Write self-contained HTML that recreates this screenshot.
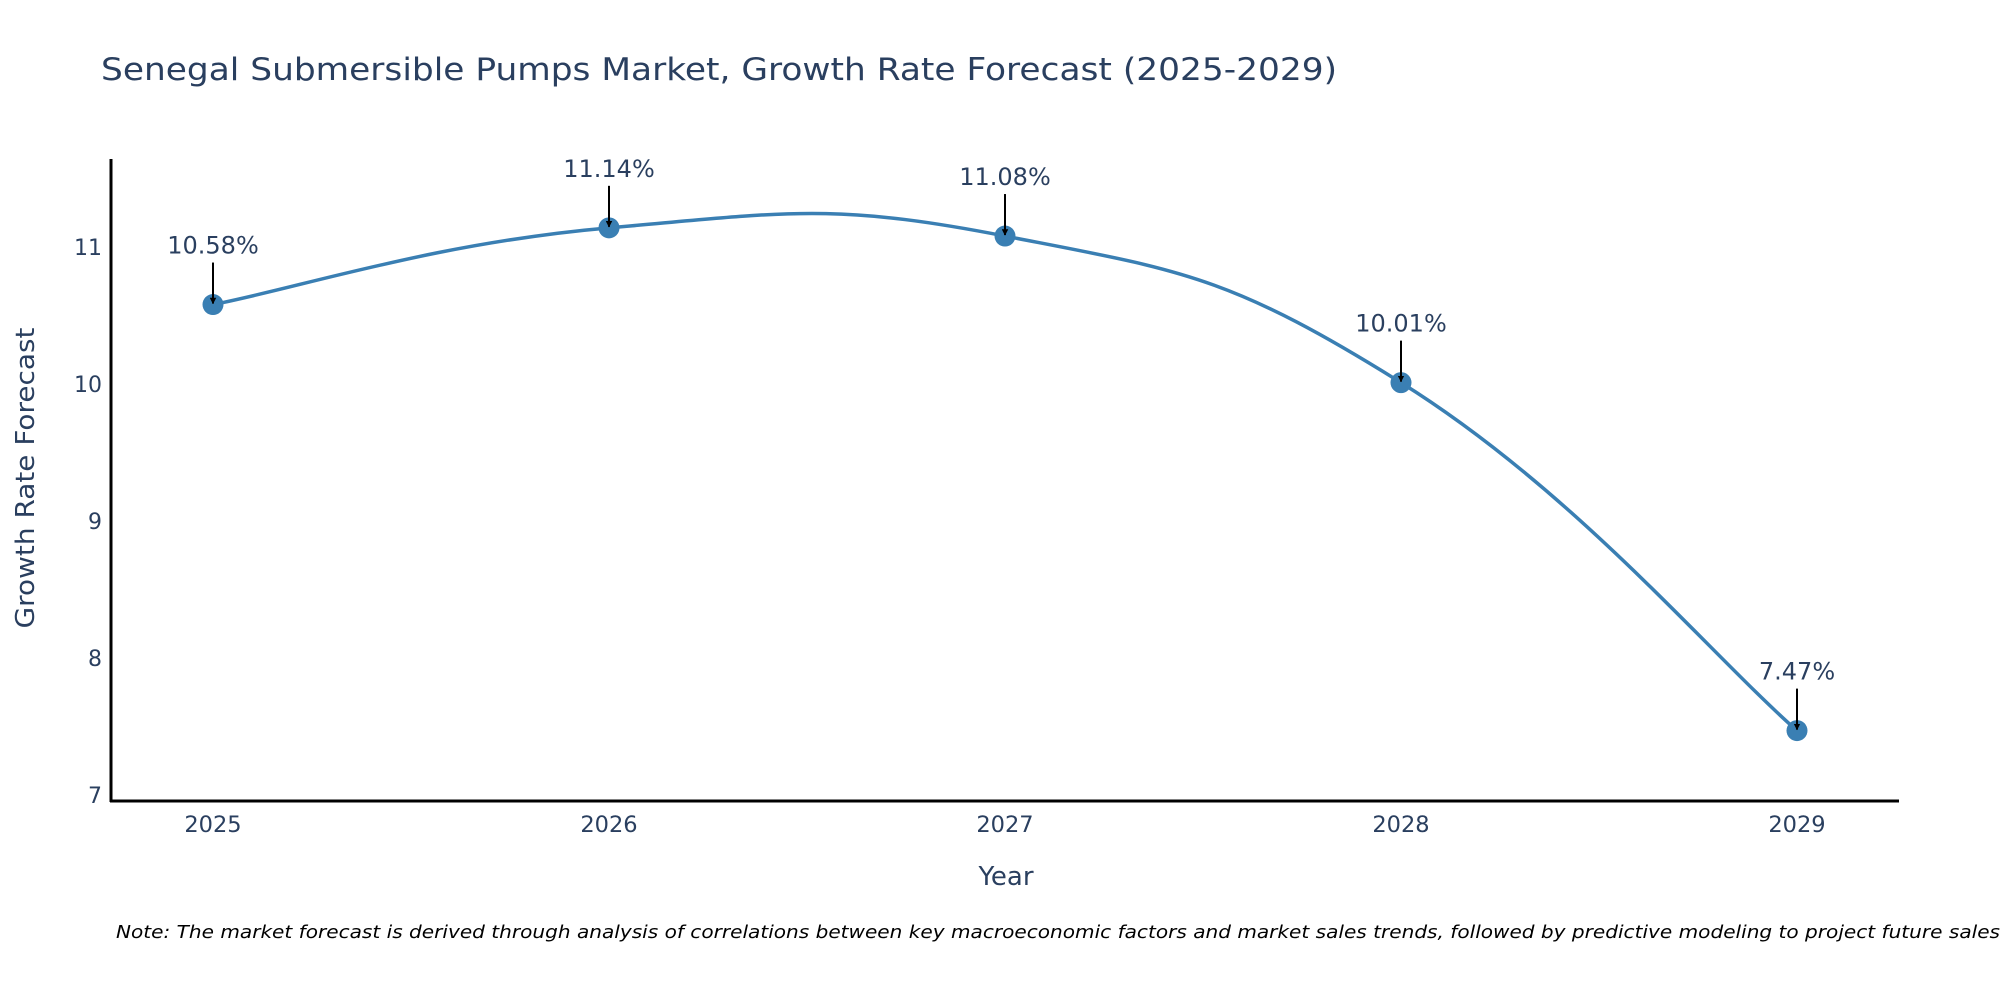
<!DOCTYPE html>
<html><head><meta charset="utf-8"><style>
html,body{margin:0;padding:0;background:#fff;}
svg{display:block;font-family:"DejaVu Sans","Liberation Sans",sans-serif;}
</style></head><body>
<svg id="chart" width="2000" height="1000" viewBox="0 0 2000 1000">
<defs><marker id="ah" viewBox="0 0 10 10" refX="9" refY="5" markerWidth="6.5" markerHeight="6.5" orient="auto" markerUnits="userSpaceOnUse"><path d="M0,0 L10,5 L0,10 z" fill="#000"/></marker></defs>
<text x="101" y="80" font-size="31" fill="#2a3f5f" textLength="1236" lengthAdjust="spacingAndGlyphs">Senegal Submersible Pumps Market, Growth Rate Forecast (2025-2029)</text>
<g id="yticks"></g>
<g id="xticks"></g>
<line x1="111" y1="159" x2="111" y2="802" stroke="#000" stroke-width="3"/>
<line x1="110" y1="801" x2="1899" y2="801" stroke="#000" stroke-width="3"/>
<path id="line" fill="none" stroke="#3a7fb3" stroke-width="3.5"/>
<g id="points"></g>
<g id="annots"></g>
<text x="1006" y="885" font-size="26" fill="#2a3f5f" text-anchor="middle">Year</text>
<text transform="translate(34,478) rotate(-90)" font-size="26" fill="#2a3f5f" text-anchor="middle" textLength="301" lengthAdjust="spacingAndGlyphs">Growth Rate Forecast</text>
<text x="116" y="938" font-size="18" font-style="italic" fill="#000" textLength="1884" lengthAdjust="spacingAndGlyphs">Note: The market forecast is derived through analysis of correlations between key macroeconomic factors and market sales trends, followed by predictive modeling to project future sales</text>
</svg>
<script>
const years = [2025, 2026, 2027, 2028, 2029];
const values = [10.58, 11.14, 11.08, 10.01, 7.47];
const labels = ["10.58%", "11.14%", "11.08%", "10.01%", "7.47%"];
const yTickVals = [7, 8, 9, 10, 11];
const ns = "http://www.w3.org/2000/svg";
function xs(v){ return 213 + (v - 2025) * 396; }
function ys(v){ return 795 - (v - 7) * 137; }
function mk(tag, attrs, parent){ const e = document.createElementNS(ns, tag); for (const k in attrs) e.setAttribute(k, attrs[k]); parent.appendChild(e); return e; }
const yt = document.getElementById('yticks');
yTickVals.forEach(v => {
  const t = mk('text', {x: 102, y: ys(v) + 8, 'font-size': 22, fill: '#2a3f5f', 'text-anchor': 'end'}, yt);
  
  
  t.textContent = v;
});
const xt = document.getElementById('xticks');
years.forEach(v => {
  const t = mk('text', {x: xs(v), y: 832, 'font-size': 22.5, fill: '#2a3f5f', 'text-anchor': 'middle'}, xt);
  
  
  t.textContent = v;
});
const P = years.map((y, i) => [xs(y), ys(values[i])]);
let d = 'M' + P[0][0] + ',' + P[0][1];
const s = 0.22;
for (let i = 0; i < P.length - 1; i++) {
  const p0 = P[Math.max(i-1,0)], p1 = P[i], p2 = P[i+1], p3 = P[Math.min(i+2,P.length-1)];
  const c1 = [p1[0] + (p2[0]-p0[0])*s, p1[1] + (p2[1]-p0[1])*s];
  const c2 = [p2[0] - (p3[0]-p1[0])*s, p2[1] - (p3[1]-p1[1])*s];
  d += ' C' + c1 + ' ' + c2 + ' ' + p2;
}
document.getElementById('line').setAttribute('d', d);
const pg = document.getElementById('points');
const ag = document.getElementById('annots');
P.forEach((p, i) => {
  const c = mk('circle', {cx: p[0], cy: p[1], r: 10.5, fill: '#3a7fb3'}, pg);
  
  
  const l = mk('line', {x1: p[0], y1: p[1] - 42, x2: p[0], y2: p[1] - 1, stroke: '#000', 'stroke-width': 2, 'marker-end': 'url(#ah)'}, ag);
  
  
  const t = mk('text', {x: p[0], y: p[1] - 51, 'font-size': 24, fill: '#2a3f5f', 'text-anchor': 'middle'}, ag);
  
  
  t.textContent = labels[i];
});
</script>
</body></html>
